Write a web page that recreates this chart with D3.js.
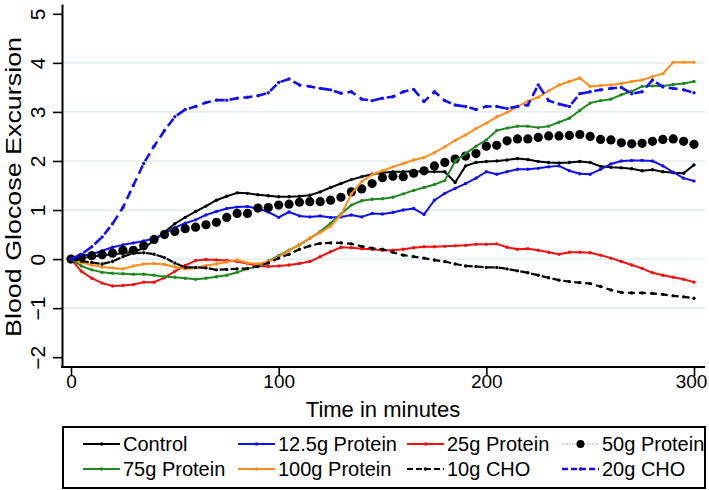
<!DOCTYPE html>
<html><head><meta charset="utf-8">
<script src="https://cdn.jsdelivr.net/npm/d3@7"></script>
<style>body{margin:0;background:#fff} svg{display:block} text{font-family:"Liberation Sans",Arial,sans-serif;fill:#000}</style>
</head><body><svg id="c" width="709" height="490"></svg>
<script>
const times = [0,5,10,15,20,25,30,35,40,45,50,55,60,65,70,75,80,85,90,95,100,105,110,115,120,125,130,135,140,145,150,155,160,165,170,175,180,185,190,195,200,205,210,215,220,225,230,235,240,245,250,255,260,265,270,275,280,285,290,295,300];
const control = [0,0.02,0.05,0.08,0.1,0.12,0.15,0.22,0.38,0.55,0.72,0.85,0.97,1.08,1.2,1.28,1.35,1.34,1.31,1.29,1.27,1.27,1.28,1.3,1.37,1.46,1.54,1.62,1.68,1.73,1.76,1.78,1.78,1.79,1.78,1.78,1.78,1.56,1.9,1.97,1.99,2.0,2.02,2.05,2.03,1.99,1.97,1.96,1.97,1.99,1.97,1.89,1.87,1.86,1.84,1.8,1.82,1.78,1.76,1.75,1.92];
const p12 = [0,0.07,0.1,0.17,0.24,0.29,0.33,0.37,0.42,0.52,0.64,0.73,0.8,0.9,0.97,1.03,1.06,1.07,1.03,0.96,0.85,0.96,0.88,0.86,0.88,0.85,0.86,0.9,0.86,0.93,0.92,0.95,1.0,1.03,0.91,1.2,1.34,1.44,1.54,1.65,1.78,1.73,1.78,1.83,1.83,1.85,1.88,1.9,1.8,1.74,1.73,1.83,1.94,2.0,2.01,2.01,2.0,1.9,1.77,1.65,1.59];
const p25 = [0,-0.25,-0.39,-0.49,-0.55,-0.54,-0.52,-0.47,-0.47,-0.38,-0.25,-0.13,-0.03,-0.01,-0.02,-0.03,-0.05,-0.09,-0.14,-0.15,-0.14,-0.12,-0.09,-0.05,0.05,0.15,0.24,0.23,0.21,0.2,0.18,0.18,0.2,0.23,0.25,0.25,0.26,0.27,0.28,0.3,0.3,0.31,0.24,0.2,0.21,0.18,0.14,0.1,0.14,0.14,0.13,0.08,0.02,-0.05,-0.12,-0.19,-0.28,-0.33,-0.37,-0.41,-0.47];
const p50 = [0,0.03,0.07,0.09,0.12,0.18,0.18,0.27,0.4,0.5,0.56,0.62,0.65,0.7,0.75,0.85,0.93,0.93,1.04,1.05,1.1,1.12,1.16,1.17,1.17,1.2,1.26,1.37,1.43,1.54,1.66,1.69,1.68,1.75,1.8,1.9,1.97,2.04,2.1,2.15,2.3,2.32,2.41,2.45,2.45,2.48,2.51,2.51,2.52,2.54,2.5,2.44,2.43,2.37,2.35,2.36,2.4,2.44,2.45,2.4,2.34];
const p75 = [0,-0.14,-0.22,-0.27,-0.29,-0.3,-0.31,-0.31,-0.33,-0.36,-0.37,-0.39,-0.41,-0.39,-0.36,-0.33,-0.27,-0.2,-0.14,-0.04,0.07,0.18,0.29,0.42,0.56,0.73,0.92,1.1,1.19,1.22,1.23,1.26,1.33,1.4,1.46,1.52,1.6,2.0,2.15,2.3,2.43,2.62,2.67,2.71,2.71,2.68,2.71,2.79,2.87,3.03,3.18,3.23,3.26,3.35,3.42,3.52,3.53,3.53,3.56,3.58,3.62];
const p100 = [0,-0.07,-0.12,-0.16,-0.18,-0.2,-0.14,-0.1,-0.09,-0.11,-0.16,-0.2,-0.18,-0.13,-0.1,-0.06,-0.02,-0.08,-0.1,-0.05,0.05,0.17,0.3,0.43,0.54,0.67,0.9,1.33,1.58,1.72,1.8,1.88,1.95,2.02,2.07,2.17,2.29,2.42,2.53,2.66,2.77,2.9,2.99,3.11,3.22,3.3,3.43,3.55,3.62,3.69,3.52,3.54,3.55,3.58,3.62,3.65,3.72,3.78,4.01,4.01,4.01];
const cho10 = [0,-0.04,-0.07,-0.1,-0.05,0.05,0.12,0.13,0.1,0.03,-0.08,-0.17,-0.17,-0.18,-0.22,-0.21,-0.2,-0.19,-0.15,-0.08,0.02,0.1,0.2,0.27,0.32,0.33,0.33,0.31,0.26,0.22,0.2,0.14,0.08,0.05,0.02,-0.02,-0.05,-0.1,-0.14,-0.15,-0.17,-0.17,-0.2,-0.24,-0.28,-0.33,-0.38,-0.43,-0.46,-0.48,-0.5,-0.56,-0.63,-0.68,-0.69,-0.69,-0.7,-0.72,-0.75,-0.77,-0.8];
const cho20 = [0,0.1,0.25,0.45,0.72,1.05,1.5,1.95,2.3,2.62,2.9,3.05,3.11,3.19,3.24,3.24,3.28,3.3,3.33,3.39,3.6,3.67,3.55,3.52,3.48,3.45,3.38,3.41,3.26,3.23,3.28,3.31,3.41,3.46,3.21,3.41,3.23,3.14,3.11,3.05,3.11,3.11,3.07,3.11,3.14,3.55,3.23,3.16,3.11,3.37,3.41,3.45,3.48,3.5,3.37,3.41,3.65,3.51,3.48,3.45,3.39];
const seriesNames = ["Control","12.5g Protein","25g Protein","50g Protein","75g Protein","100g Protein","10g CHO","20g CHO"];
const xTicks = [0,100,200,300];
const yTicks = [-2,-1,0,1,2,3,4,5];
const gridVals = [-1,0,1,2,3,4];

const styles = [
  {c:"#000000", dash:null, w:2},
  {c:"#1010f2", dash:null, w:2},
  {c:"#f21010", dash:null, w:2},
  {c:"#000000", dots:true},
  {c:"#1f8a1f", dash:null, w:2},
  {c:"#ff8c1a", dash:null, w:2},
  {c:"#000000", dash:"7,4", w:2.2},
  {c:"#1010f2", dash:"9,5", w:2.6}
];
const data = [control,p12,p25,p50,p75,p100,cho10,cho20];

const svg = d3.select("#c");
const x = d3.scaleLinear().domain([0,300]).range([71,694]);
const y = d3.scaleLinear().domain([-2.2,5.2]).range([367,4]);

// grid
svg.append("g").selectAll("line").data(gridVals).join("line")
  .attr("x1",62).attr("x2",705).attr("y1",d=>y(d)).attr("y2",d=>y(d))
  .attr("stroke","#e4eef0").attr("stroke-width",1.6);

// series
const line = d3.line().x((d,i)=>x(times[i])).y(d=>y(d));
data.forEach((vals,k)=>{
  const s = styles[k];
  const g = svg.append("g");
  if (s.dots) {
    g.append("path").attr("d",line(vals)).attr("fill","none")
      .attr("stroke","#bbbbbb").attr("stroke-width",1).attr("stroke-dasharray","1,2");
    g.selectAll("circle").data(vals).join("circle")
      .attr("cx",(d,i)=>x(times[i])).attr("cy",d=>y(d)).attr("r",4.6).attr("fill","#000");
  } else {
    g.append("path").attr("d",line(vals)).attr("fill","none")
      .attr("stroke",s.c).attr("stroke-width",s.w).attr("stroke-dasharray",s.dash)
      .attr("stroke-linejoin","round");
    g.selectAll("circle").data(vals).join("circle")
      .attr("cx",(d,i)=>x(times[i])).attr("cy",d=>y(d)).attr("r",1.7).attr("fill",s.c);
  }
});

// axes
const yAxis = svg.append("g").attr("transform","translate(62,0)")
  .call(d3.axisLeft(y).tickValues(yTicks).tickSize(9).tickSizeOuter(0).tickFormat(d=>d<0?"\u2212"+Math.abs(d):d));
yAxis.select(".domain").attr("stroke-width",2);
yAxis.selectAll(".tick line").attr("stroke-width",1.6);
yAxis.selectAll(".tick text").attr("x",null).attr("dy",null)
  .attr("transform","translate(-17,0) rotate(-90)").attr("text-anchor","middle")
  .style("font-size","21px").style("font-family","'Liberation Sans',Arial,sans-serif");

const xAxis = svg.append("g").attr("transform","translate(0,367)")
  .call(d3.axisBottom(x).tickValues(xTicks).tickSize(9).tickSizeOuter(0));
xAxis.select(".domain").remove();
svg.append("line").attr("x1",61).attr("x2",705).attr("y1",367).attr("y2",367).attr("stroke","#000").attr("stroke-width",2);
xAxis.selectAll(".tick line").attr("stroke-width",1.6);
xAxis.selectAll(".tick text").attr("y",21).attr("dy",null)
  .attr("dx",d=>d===300?-3:0)
  .style("font-size","19px").style("font-family","'Liberation Sans',Arial,sans-serif");

// titles
svg.append("text").attr("x",383).attr("y",417).attr("text-anchor","middle").style("font-size","22px").text("Time in minutes");
svg.append("text").attr("transform","translate(21,187) rotate(-90)").attr("text-anchor","middle")
  .attr("textLength",300).attr("lengthAdjust","spacingAndGlyphs")
  .style("font-size","22px").text("Blood Glocose Excursion");

// legend
svg.append("rect").attr("x",63).attr("y",427).attr("width",642).attr("height",61)
  .attr("fill","#fff").attr("stroke","#000").attr("stroke-width",2);
const cols = [83,238,407,562], rows = [444,469];
seriesNames.forEach((name,k)=>{
  const cx = cols[k%4], cy = rows[Math.floor(k/4)], s = styles[k];
  const g = svg.append("g");
  if (s.dots) {
    g.append("line").attr("x1",cx).attr("x2",cx+37).attr("y1",cy).attr("y2",cy)
      .attr("stroke","#aaaaaa").attr("stroke-width",1.5).attr("stroke-dasharray","1,1.5");
    g.append("circle").attr("cx",cx+18.5).attr("cy",cy).attr("r",4).attr("fill","#000");
  } else {
    g.append("line").attr("x1",cx).attr("x2",cx+37).attr("y1",cy).attr("y2",cy)
      .attr("stroke",s.c).attr("stroke-width",s.w).attr("stroke-dasharray",s.dash ? "6,3" : null);
    g.append("circle").attr("cx",cx+18.5).attr("cy",cy).attr("r",1.8).attr("fill",s.c);
  }
  g.append("text").attr("x",cx+40).attr("y",cy).attr("dy","0.36em").style("font-size","20px").text(name);
});
</script></body></html>
